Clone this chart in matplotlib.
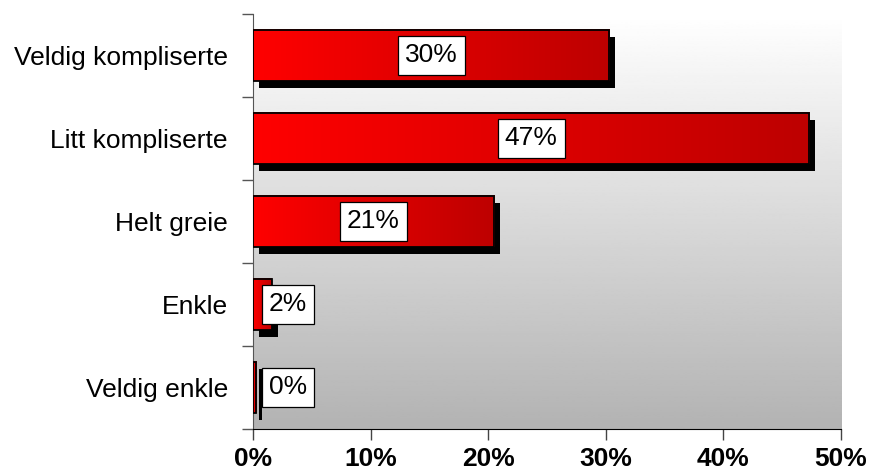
import numpy as np
import matplotlib
matplotlib.use("Agg")
import matplotlib.pyplot as plt
import matplotlib.transforms as mtransforms
from matplotlib.colors import LinearSegmentedColormap

plt.rcParams['font.family'] = ['Liberation Sans', 'DejaVu Sans']

# data (top to bottom)
categories = ['Veldig kompliserte', 'Litt kompliserte', 'Helt greie', 'Enkle', 'Veldig enkle']
values = [30.3, 47.3, 20.5, 1.6, 0.3]
labels = ['30%', '47%', '21%', '2%', '0%']
xticks = [0, 10, 20, 30, 40, 50]

fig = plt.figure(figsize=(8.69, 4.71), dpi=100)
ax = fig.add_axes([0.2911, 0.0892, 0.6767, 0.8811])

n = len(categories)
ypos = np.arange(n)[::-1]  # top category at highest y

# background gradient (white at top -> gray at bottom)
bg = np.linspace(0.70, 1.0, 256).reshape(-1, 1)
ax.imshow(bg, extent=[0, 1, 0, 1], transform=ax.transAxes, origin='lower',
          cmap='gray', vmin=0, vmax=1, aspect='auto', zorder=0)

red_cmap = LinearSegmentedColormap.from_list('redgrad', ['#ff0000', '#bd0000'])
grad = np.linspace(0, 1, 256).reshape(1, -1)
h = 0.62

shadow = ax.transData + mtransforms.ScaledTranslation(6 / 100, -7 / 100, fig.dpi_scale_trans)

for y, v, lab in zip(ypos, values, labels):
    # shadow
    ax.barh(y, v, height=h, color='black', transform=shadow, zorder=2)
    # gradient fill
    ax.imshow(grad, extent=[0, v, y - h / 2, y + h / 2], cmap=red_cmap,
              aspect='auto', zorder=3)
    ax.barh(y, v, height=h, facecolor='none', edgecolor='black', linewidth=1.3, zorder=4)
    ax.text(max(v / 2, 3.0), y, lab, ha='center', va='center', fontsize=19, zorder=5,
            bbox=dict(boxstyle='square,pad=0.27', facecolor='white', edgecolor='black', linewidth=0.9))

ax.set_xlim(0, 50)
ax.set_ylim(-0.5, n - 0.5)

# axes styling
for s in ['top', 'right']:
    ax.spines[s].set_visible(False)
ax.spines['left'].set_color('#555555')
ax.spines['bottom'].set_color('black')

ax.set_xticks(xticks)
ax.set_xticklabels([f'{t}%' for t in xticks], fontsize=19, fontweight='bold')
ax.tick_params(axis='x', length=8, width=1, color='#444444', pad=5)

ax.set_yticks(np.arange(-0.5, n, 1.0))
ax.set_yticklabels([])
ax.tick_params(axis='y', which='major', length=8, width=1, color='#555555')
ax.set_yticks(ypos, minor=True)
ax.set_yticklabels(categories, minor=True, fontsize=19)
ax.tick_params(axis='y', which='minor', length=0, pad=18)

fig.savefig('out.png', dpi=100)
